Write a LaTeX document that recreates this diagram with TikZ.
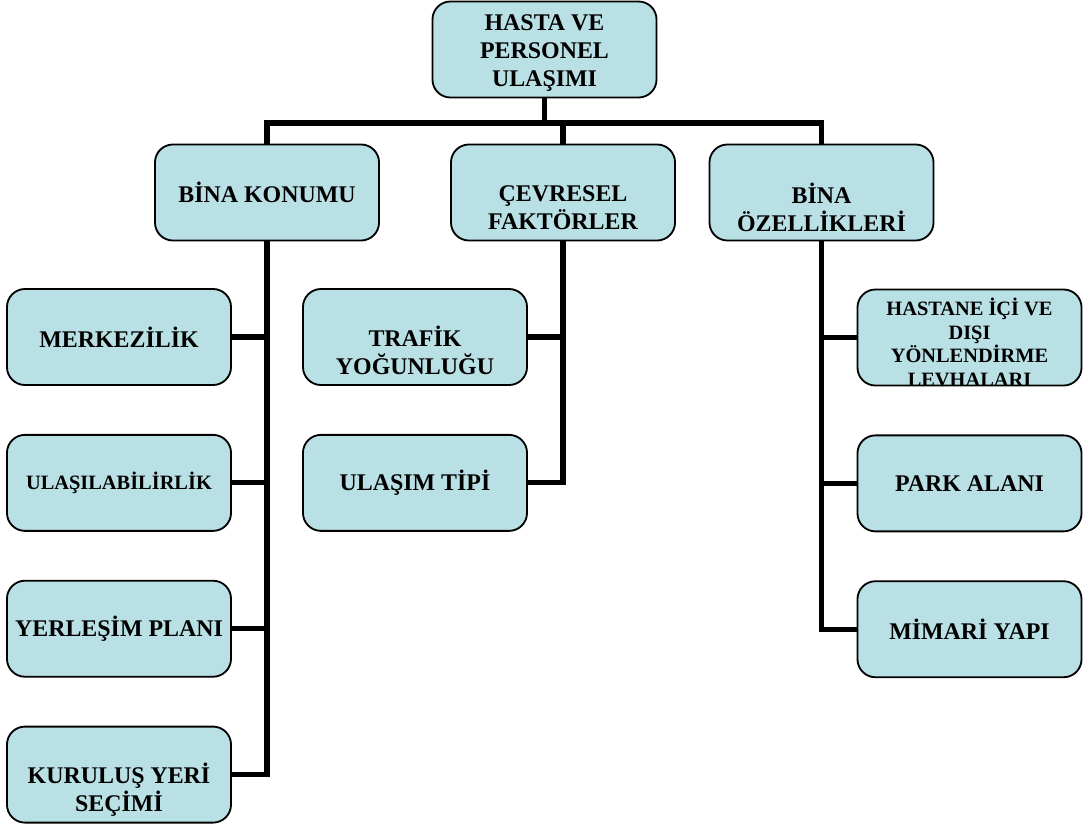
\documentclass[tikz,border=0pt]{standalone}
\usepackage{fontspec}
\setmainfont{Liberation Serif}
\usetikzlibrary{positioning}
\definecolor{boxcyan}{RGB}{185,224,228}

\begin{document}
\begin{tikzpicture}[x=0.025cm,y=-0.025cm,
  box/.style={draw,line width=1.3pt,rounded corners=0.45cm,fill=boxcyan,
    minimum width=5.6cm,minimum height=2.4cm,inner sep=0pt},
  txt/.style={align=center,inner sep=0pt,
    font=\fontsize{17}{20}\selectfont\bfseries},
  small/.style={font=\fontsize{14.5}{16.7}\selectfont\bfseries},
  conn/.style={line width=3.6pt}]

\useasboundingbox (0,0) rectangle (1084,823);

% define the boxes
  \node[box] (top) at (544.5,49.5) {};
  \node[box] (bk) at (267,192.5) {};
  \node[box] (cf) at (563,192.5) {};
  \node[box] (bo) at (821.5,192.5) {};

  \node[box] (mk) at (119,337) {};
  \node[box, below=1.2cm of mk] (ul) {};
  \node[box, below=1.2cm of ul] (yp) {};
  \node[box, below=1.2cm of yp] (kys) {};

  \node[box] (tr) at (415,337) {};
  \node[box, below=1.2cm of tr] (ut) {};

  \node[box] (hd) at (969.5,337.5) {};
  \node[box, below=1.2cm of hd] (pa) {};
  \node[box, below=1.2cm of pa] (my) {};

% define the texts
  \node[txt, yshift=-0.08cm] (topt) at (top) {HASTA VE\\PERSONEL\\ULAŞIMI};
  \node[txt] (bkt) at (bk) {BİNA KONUMU};
  \node[txt, yshift=-0.37cm] (cft) at (cf) {ÇEVRESEL\\FAKTÖRLER};
  \node[txt, yshift=-0.37cm] (bot) at (bo) {BİNA\\ÖZELLİKLERİ};

  \node[txt] (mkt) at (mk) {MERKEZİLİK};
  \node[txt, small] (ult) at (ul) {ULAŞILABİLİRLİK};
  \node[txt] (ypt) at (yp) {YERLEŞİM PLANI};
  \node[txt, yshift=-0.37cm] (kyst) at (kys) {KURULUŞ YERİ\\SEÇİMİ};

  \node[txt, yshift=-0.33cm] (trt) at (tr) {TRAFİK\\YOĞUNLUĞU};
  \node[txt] (utt) at (ut) {ULAŞIM TİPİ};

  \begin{scope}
    \clip[rounded corners=0.45cm] (hd.south west) rectangle (hd.north east);
    \node[txt, small, yshift=-0.12cm] (hdt) at (hd)
      {HASTANE İÇİ VE\\DIŞI\\YÖNLENDİRME\\LEVHALARI};
  \end{scope}
  \node[txt] (pat) at (pa) {PARK ALANI};
  \node[txt] (myt) at (my) {MİMARİ YAPI};

% define the links
  \coordinate (bar) at (544.5,123);
  \draw[conn] (top.south) -- (bar);
  \draw[conn] (bk.north) |- (bar) -| (bo.north);
  \draw[conn] (cf.north) -- (cf.north |- bar);

  \foreach \n in {mk,ul,yp,kys}
    \draw[conn] (\n.east) -| (bk.south);
  \foreach \n in {tr,ut}
    \draw[conn] (\n.east) -| (cf.south);
  \foreach \n in {hd,pa,my}
    \draw[conn] (\n.west) -| (bo.south);

\end{tikzpicture}
\end{document}
